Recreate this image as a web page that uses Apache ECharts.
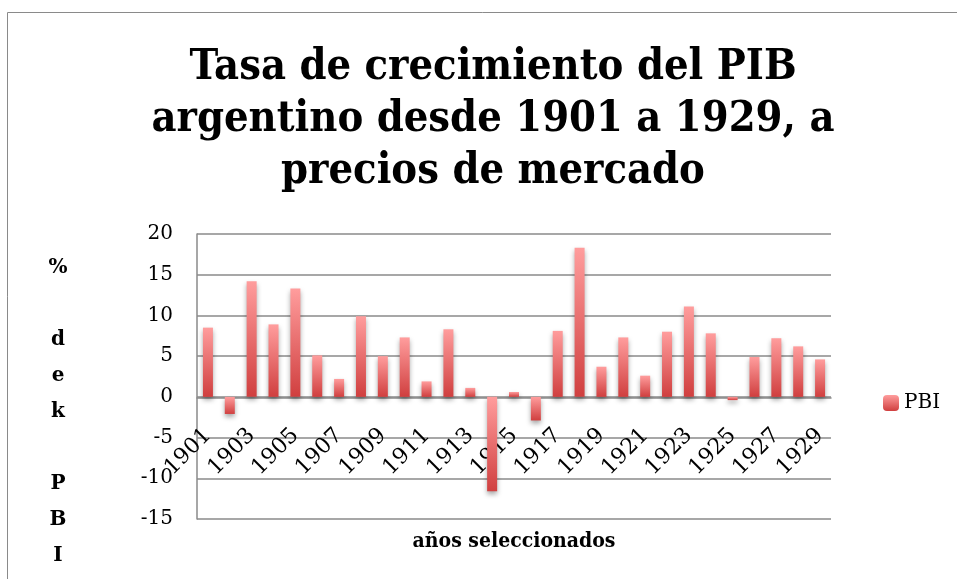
<!DOCTYPE html>
<html>
<head>
<meta charset="utf-8">
<script src="https://cdn.jsdelivr.net/npm/echarts@6/dist/echarts.min.js"></script>
<style>
  html, body { margin: 0; padding: 0; background: #fff; }
  #chart { width: 957px; height: 579px; }
</style>
</head>
<body>
<div id="chart"></div>
<script>
// años 1901..1929
const years = ['1901', '1902', '1903', '1904', '1905', '1906', '1907', '1908', '1909', '1910',
  '1911', '1912', '1913', '1914', '1915', '1916', '1917', '1918', '1919', '1920',
  '1921', '1922', '1923', '1924', '1925', '1926', '1927', '1928', '1929'];
// tasa de crecimiento (%)
const pbi = [8.5, -2.1, 14.2, 8.9, 13.3, 5.1, 2.2, 9.9, 5.0, 7.3,
  1.9, 8.3, 1.1, -11.6, 0.6, -2.9, 8.1, 18.3, 3.7, 7.3,
  2.6, 8.0, 11.1, 7.8, -0.4, 4.9, 7.2, 6.2, 4.6];

const serif = '"DejaVu Serif", serif';
const serifCond = '"DejaVu Serif Condensed", "DejaVu Serif", serif';
const grisLinea = '#8a8a8a';

const barGradient = new echarts.graphic.LinearGradient(0, 0, 0, 1, [
  { offset: 0, color: '#ff9d9d' },
  { offset: 1, color: '#d03f3f' }
]);

const option = {
  animation: false,
  title: {
    text: 'Tasa de crecimiento del PIB\nargentino desde 1901 a 1929, a\nprecios de mercado',
    left: 488,
    textAlign: 'center',
    top: 37,
    textStyle: {
      fontFamily: serifCond,
      fontWeight: 'bold',
      fontSize: 43,
      lineHeight: 52,
      color: '#000'
    }
  },
  legend: {
    data: ['PBI'],
    left: 878,
    top: 388,
    itemWidth: 16,
    itemHeight: 16,
    itemGap: 6,
    textStyle: { fontFamily: serif, fontSize: 20, color: '#000' }
  },
  grid: {
    left: 197,
    right: 126,
    top: 234,
    bottom: 60,
    outerBoundsMode: 'none'
  },
  xAxis: {
    type: 'category',
    data: years,
    // el eje se dibuja sobre la línea del cero (-15..20 => 121 px por encima del fondo)
    offset: -121,
    axisLine: { onZero: false, lineStyle: { color: grisLinea, width: 1.5 } },
    axisTick: { show: false },
    axisLabel: {
      interval: 1,
      rotate: 45,
      margin: 34,
      fontFamily: serif,
      fontSize: 22,
      color: '#000'
    }
  },
  yAxis: {
    type: 'value',
    min: -15,
    max: 20,
    interval: 5,
    axisLine: { show: true, lineStyle: { color: grisLinea, width: 1.5 } },
    axisTick: { show: false },
    axisLabel: { margin: 24, fontFamily: serif, fontSize: 20, color: '#000' },
    splitLine: { show: true, lineStyle: { color: grisLinea, width: 1.5 } }
  },
  series: [
    {
      name: 'PBI',
      type: 'bar',
      data: pbi,
      barWidth: 10,
      itemStyle: {
        color: barGradient,
        shadowColor: 'rgba(0,0,0,0.35)',
        shadowBlur: 5,
        shadowOffsetY: 3
      }
    }
  ],
  graphic: [
    {
      type: 'rect',
      shape: { x: 7.5, y: 12.5, width: 960, height: 580 },
      style: { fill: null, stroke: '#8a8a8a', lineWidth: 1 },
      silent: true
    },
    {
      type: 'text',
      x: 58,
      y: 250,
      style: {
        text: '%\n\nd\ne\nk\n\nP\nB\nI',
        fontFamily: serif,
        fontWeight: 'bold',
        fontSize: 20,
        lineHeight: 36,
        align: 'center',
        fill: '#000'
      }
    },
    {
      type: 'text',
      x: 514,
      y: 531,
      style: {
        text: 'años seleccionados',
        fontFamily: serifCond,
        fontWeight: 'bold',
        fontSize: 21,
        align: 'center',
        fill: '#000'
      }
    }
  ]
};

echarts.init(document.getElementById('chart')).setOption(option);
</script>
</body>
</html>
